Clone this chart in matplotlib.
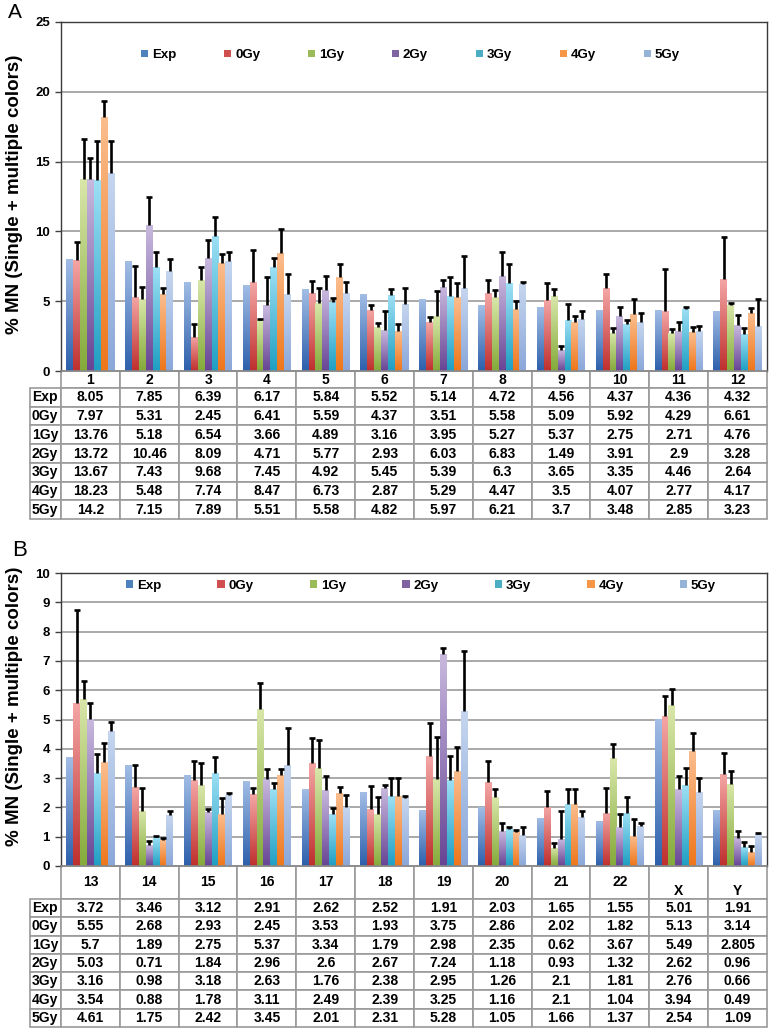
import numpy as np
import matplotlib
matplotlib.use('Agg')
import matplotlib.pyplot as plt
from matplotlib.patches import Patch
from matplotlib.colors import LinearSegmentedColormap
from matplotlib.table import Table

plt.rcParams['font.family'] = ['Liberation Sans', 'DejaVu Sans']

series = ['Exp', '0Gy', '1Gy', '2Gy', '3Gy', '4Gy', '5Gy']

# ---------------- Panel A data ----------------
cats_a = ['1', '2', '3', '4', '5', '6', '7', '8', '9', '10', '11', '12']
exp_a = [8.05, 7.85, 6.39, 6.17, 5.84, 5.52, 5.14, 4.72, 4.56, 4.37, 4.36, 4.32]
gy0_a = [7.97, 5.31, 2.45, 6.41, 5.59, 4.37, 3.51, 5.58, 5.09, 5.92, 4.29, 6.61]
gy1_a = [13.76, 5.18, 6.54, 3.66, 4.89, 3.16, 3.95, 5.27, 5.37, 2.75, 2.71, 4.76]
gy2_a = [13.72, 10.46, 8.09, 4.71, 5.77, 2.93, 6.03, 6.83, 1.49, 3.91, 2.9, 3.28]
gy3_a = [13.67, 7.43, 9.68, 7.45, 4.92, 5.45, 5.39, 6.3, 3.65, 3.35, 4.46, 2.64]
gy4_a = [18.23, 5.48, 7.74, 8.47, 6.73, 2.87, 5.29, 4.47, 3.5, 4.07, 2.77, 4.17]
gy5_a = [14.2, 7.15, 7.89, 5.51, 5.58, 4.82, 5.97, 6.21, 3.7, 3.48, 2.85, 3.23]

# upper error bars (Exp has none)
err0_a = [1.28, 2.2, 0.92, 2.25, 0.87, 0.36, 0.39, 0.94, 1.18, 1.01, 3.02, 3.0]
err1_a = [2.85, 0.85, 0.94, 0.05, 1.09, 0.27, 1.76, 0.53, 0.53, 0.31, 0.31, 0.1]
err2_a = [1.57, 2.0, 1.26, 2.05, 1.06, 1.4, 0.46, 1.71, 0.31, 0.7, 0.58, 0.7]
err3_a = [2.78, 1.1, 1.38, 0.68, 0.31, 0.43, 1.35, 1.38, 1.16, 0.31, 0.12, 0.41]
err4_a = [1.09, 0.43, 0.63, 1.7, 0.97, 0.5, 1.01, 0.58, 0.46, 1.06, 0.39, 0.34]
err5_a = [2.29, 0.9, 0.6, 1.43, 0.8, 1.09, 2.25, 0.17, 0.58, 0.65, 0.34, 1.91]

# ---------------- Panel B data ----------------
cats_b = ['13', '14', '15', '16', '17', '18', '19', '20', '21', '22', 'X', 'Y']
exp_b = [3.72, 3.46, 3.12, 2.91, 2.62, 2.52, 1.91, 2.03, 1.65, 1.55, 5.01, 1.91]
gy0_b = [5.55, 2.68, 2.93, 2.45, 3.53, 1.93, 3.75, 2.86, 2.02, 1.82, 5.13, 3.14]
gy1_b = [5.7, 1.89, 2.75, 5.37, 3.34, 1.79, 2.98, 2.35, 0.62, 3.67, 5.49, 2.805]
gy2_b = [5.03, 0.71, 1.84, 2.96, 2.6, 2.67, 7.24, 1.18, 0.93, 1.32, 2.62, 0.96]
gy3_b = [3.16, 0.98, 3.18, 2.63, 1.76, 2.38, 2.95, 1.26, 2.1, 1.81, 2.76, 0.66]
gy4_b = [3.54, 0.88, 1.78, 3.11, 2.49, 2.39, 3.25, 1.16, 2.1, 1.04, 3.94, 0.49]
gy5_b = [4.61, 1.75, 2.42, 3.45, 2.01, 2.31, 5.28, 1.05, 1.66, 1.37, 2.54, 1.09]

err0_b = [3.18, 0.78, 0.66, 0.21, 0.85, 0.8, 1.14, 0.74, 0.55, 0.85, 0.68, 0.7]
err1_b = [0.61, 0.76, 0.76, 0.89, 0.95, 0.55, 1.41, 0.29, 0.18, 0.51, 0.55, 0.43]
err2_b = [0.52, 0.15, 0.11, 0.36, 0.47, 0.09, 0.2, 0.29, 0.95, 0.45, 0.46, 0.24]
err3_b = [0.66, 0.05, 0.55, 0.21, 0.21, 0.64, 0.8, 0.08, 0.53, 0.55, 0.59, 0.17]
err4_b = [0.66, 0.06, 0.54, 0.2, 0.21, 0.63, 0.8, 0.07, 0.53, 0.55, 0.61, 0.18]
err5_b = [0.29, 0.13, 0.08, 1.25, 0.43, 0.07, 2.07, 0.29, 0.23, 0.1, 0.45, 0.05]

# bar colours: light top, dark bottom, legend colour
tops = ['#A3BEE6', '#F4A7A6', '#D9E7AA', '#C9BADF', '#9DE0F5', '#FBBE8F', '#C6D6EF']
bots = ['#2C5FAB', '#BE2F2D', '#84AA3A', '#674494', '#1F9EC2', '#EE761A', '#8AA7D9']
mids = ['#4F81BD', '#D05050', '#9BBB59', '#8064A2', '#4BACC6', '#F79646', '#95B3D7']

FS = 9.5
TFS = 10
AX_W = 706.0     # axes width in px
LAB_W = 31.0     # row-label column width in px


def draw_panel(ax, cats, vals, errs, ymax, ystep, legend_xy, colspace,
               head_h, row_h, tbl_h, ylabel_y, x_lower=()):
    n = len(cats)
    x = np.arange(n)
    bw = 0.117
    for i, v in enumerate(vals):
        xs = x + (i - 3) * bw
        bars = ax.bar(xs, v, width=bw, color=mids[i], zorder=2, linewidth=0)
        cmap = LinearSegmentedColormap.from_list('g%d' % i, [bots[i], tops[i]])
        grad = np.linspace(0, 1, 128).reshape(-1, 1)
        for p in bars.patches:
            im = ax.imshow(grad, extent=[p.get_x(), p.get_x() + p.get_width(), 0, p.get_height()],
                           origin='lower', cmap=cmap, aspect='auto', zorder=2.1,
                           interpolation='bilinear')
            im.set_clip_path(p)
        if i > 0:
            e = errs[i - 1]
            _, caps, _ = ax.errorbar(xs, v, yerr=[np.zeros(n), e], fmt='none', ecolor='black',
                                     elinewidth=1.9, capsize=2.0, capthick=1.9, zorder=3)
            caps[0].set_visible(False)

    ax.set_xlim(-0.5, n - 0.5)
    ax.set_ylim(0, ymax)
    ticks = np.arange(0, ymax + 0.01, ystep)
    ax.set_yticks(ticks)
    ax.set_yticklabels([f"{t:g}" for t in ticks], fontsize=9.5, fontweight='bold')
    ax.set_xticks([])
    ax.tick_params(axis='y', length=4, width=1, color='#404040', pad=4)
    ax.yaxis.grid(True, color='#A3A3A3', linewidth=1.3)
    ax.set_axisbelow(True)
    for s in ['top', 'right', 'left']:
        ax.spines[s].set_color('#3A3A3A')
        ax.spines[s].set_linewidth(1.0)
    ax.spines['bottom'].set_color('#8A8A8A')
    ax.spines['bottom'].set_linewidth(1.2)

    handles = [Patch(facecolor=mids[i], edgecolor='none') for i in range(len(series))]
    ax.legend(handles, series, ncol=7, loc='center', bbox_to_anchor=legend_xy,
              frameon=False, handlelength=0.55, handleheight=0.55, handletextpad=0.3,
              columnspacing=colspace, prop={'weight': 'bold', 'size': FS})

    ax.text(-0.066, ylabel_y, '% MN (Single + multiple colors)', transform=ax.transAxes,
            rotation=90, ha='center', va='center', fontsize=13.5, fontweight='bold')

    # data table: header row of categories, then one row per series
    left = -LAB_W / AX_W
    tbl = Table(ax, bbox=[left, -tbl_h, 1 - left, tbl_h])
    cw = AX_W / n
    for j, c in enumerate(cats):
        txt = ('\n' + c) if c in x_lower else c
        tbl.add_cell(0, j + 1, width=cw, height=head_h, text=txt, loc='center')
    for i, s in enumerate(series):
        tbl.add_cell(i + 1, 0, width=LAB_W, height=row_h, text=s, loc='left')
        for j, v in enumerate(vals[i]):
            tbl.add_cell(i + 1, j + 1, width=cw, height=row_h, text=f"{v:g}", loc='center')
    tbl.auto_set_font_size(False)
    for (r, c), cell in tbl.get_celld().items():
        cell.set_edgecolor('#9A9A9A')
        cell.set_linewidth(1.2)
        cell.set_fontsize(TFS)
        cell.get_text().set_fontweight('bold')
        if c == 0:
            cell.PAD = 0.06
    ax.add_table(tbl)


fig = plt.figure(figsize=(7.71, 10.30), dpi=100)
axA = fig.add_axes([61 / 771, 1 - 371 / 1030, 706 / 771, 349 / 1030])
axB = fig.add_axes([61 / 771, 1 - 866 / 1030, 706 / 771, 293 / 1030])

vals_a = [exp_a, gy0_a, gy1_a, gy2_a, gy3_a, gy4_a, gy5_a]
errs_a = [err0_a, err1_a, err2_a, err3_a, err4_a, err5_a]
vals_b = [exp_b, gy0_b, gy1_b, gy2_b, gy3_b, gy4_b, gy5_b]
errs_b = [err0_b, err1_b, err2_b, err3_b, err4_b, err5_b]

draw_panel(axA, cats_a, vals_a, errs_a, 25, 5, (0.495, 0.905), 3.6,
           17, 18.7, (519 - 371) / 349, 0.507)
draw_panel(axB, cats_b, vals_b, errs_b, 10, 1, (0.51, 0.956), 4.25,
           33, 18.3, (1027 - 866) / 293, 0.546, x_lower=('X', 'Y'))

fig.text(8 / 771, 1 - 13 / 1030, 'A', fontsize=15, ha='left', va='center')
fig.text(12 / 771, 1 - 551 / 1030, 'B', fontsize=16, ha='left', va='center')

fig.savefig('out.png', dpi=100)
